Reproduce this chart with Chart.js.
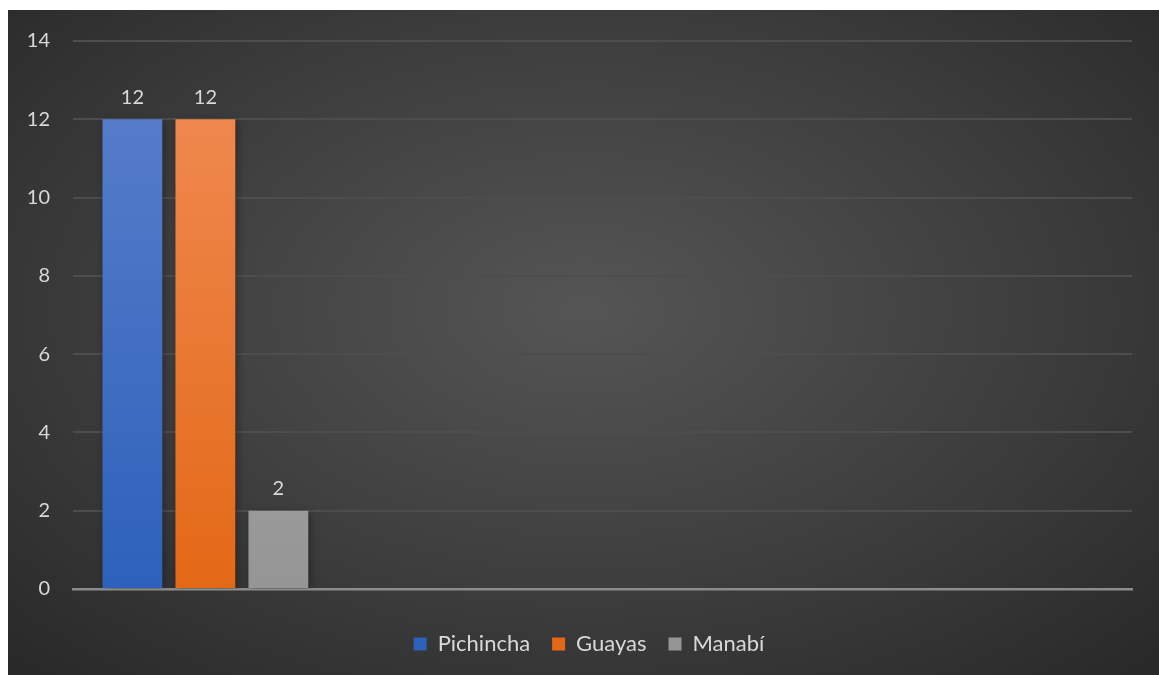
<!DOCTYPE html>
<html>
<head>
<meta charset="utf-8">
<script src="https://cdn.jsdelivr.net/npm/chart.js@4/dist/chart.umd.min.js"></script>
<style>
  html, body { margin: 0; padding: 0; background: #fff; }
  #bg {
    position: absolute; left: 8px; top: 10px; width: 1151px; height: 665px;
    background: radial-gradient(ellipse 75% 80% at 50% 45%, #555555 0%, #3c3c3c 55%, #262626 100%);
  }
  #wrap { position: absolute; left: 8px; top: 6px; width: 1151px; height: 669px; }
</style>
</head>
<body>
<div id="bg"></div>
<div id="wrap"><canvas id="chart"></canvas></div>
<script>
// ── Datos ─────────────────────────────────────────────
const categories = ['', '', '', ''];
const seriesNames = ['Pichincha', 'Guayas', 'Manabí'];
const pichincha = [12, null, null, null];
const guayas = [12, null, null, null];
const manabi = [2, null, null, null];
const yTicks = [0, 2, 4, 6, 8, 10, 12, 14];

const FONT = 'Lato, "Open Sans", sans-serif';
const TXT = '#d9d9d9';

// gradiente vertical para cada serie
const grads = [['#5c80cc', '#2d61bb'], ['#f18d57', '#e36816'], ['#b3b3b3', '#959595']];
function barFill(i) {
    return ctx => {
        const a = ctx.chart.chartArea;
        if (!a) return grads[i][1];
        const g = ctx.chart.ctx.createLinearGradient(0, a.top, 0, a.bottom);
        g.addColorStop(0, grads[i][0]);
        g.addColorStop(1, grads[i][1]);
        return g;
    };
}

// etiquetas de valor sobre las barras
const valueLabels = {
    id: 'valueLabels',
    afterDatasetsDraw(chart) {
        const c = chart.ctx;
        c.save();
        c.font = '20px ' + FONT;
        c.fillStyle = TXT;
        c.textAlign = 'center';
        c.textBaseline = 'bottom';
        chart.data.datasets.forEach((ds, i) => {
            chart.getDatasetMeta(i).data.forEach((bar, j) => {
                if (ds.data[j] == null) return;
                c.fillText(ds.data[j], bar.x, bar.y - 12);
            });
        });
        c.restore();
    }
};

// sombra ligera de las barras
const barShadow = {
    id: 'barShadow',
    beforeDatasetsDraw(chart) {
        const c = chart.ctx;
        c.save();
        c.shadowColor = 'rgba(0,0,0,0.35)';
        c.shadowBlur = 8;
        c.shadowOffsetX = 2;
        c.shadowOffsetY = 2;
    },
    afterDatasetsDraw(chart) { chart.ctx.restore(); }
};

// centrar la leyenda como en el original
const legendShift = {
    id: 'legendShift',
    afterUpdate(chart) {
        const lg = chart.legend;
        if (!lg) return;
        lg.left += 19; lg.right += 19;
        (lg.legendHitBoxes || []).forEach(h => { h.left += 19; });
    }
};

new Chart(document.getElementById('chart'), {
    type: 'bar',
    data: {
        labels: categories,
        datasets: [pichincha, guayas, manabi].map((d, i) => ({
            label: seriesNames[i],
            data: d,
            backgroundColor: barFill(i),
            borderWidth: 0,
            categoryPercentage: 0.827,
            barPercentage: 0.82
        }))
    },
    options: {
        responsive: true, maintainAspectRatio: false, animation: false,
        layout: { padding: { top: 18, right: 27, bottom: 10, left: 0 } },
        plugins: {
            tooltip: { enabled: false },
            legend: {
                position: 'bottom',
                labels: {
                    color: TXT, font: { family: FONT, size: 22 },
                    boxWidth: 13, boxHeight: 13, padding: 22
                }
            }
        },
        scales: {
            x: {
                grid: { display: false },
                border: { display: true, color: '#8c8c8c', width: 2.5 },
                ticks: { display: false },
                afterFit: s => { s.height = 22; }
            },
            y: {
                min: 0, max: 14,
                afterBuildTicks: s => { s.ticks = yTicks.map(v => ({ value: v })); },
                afterFit: s => { s.width = 65; },
                grid: { color: ctx => ctx.tick.value === 0 ? 'rgba(0,0,0,0)' : '#4d4d4d', lineWidth: 2, drawTicks: false },
                border: { display: false },
                ticks: { color: TXT, font: { family: FONT, size: 20 }, padding: 23 }
            }
        }
    },
    plugins: [barShadow, valueLabels, legendShift]
});
</script>
</body>
</html>
